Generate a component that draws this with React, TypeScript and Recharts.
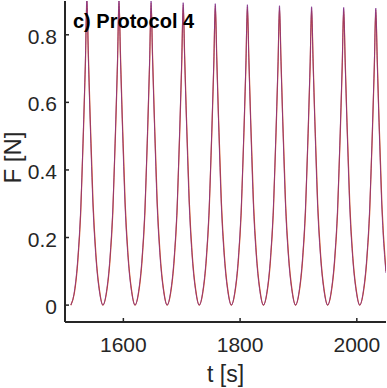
import { LineChart, Line, XAxis, YAxis } from 'recharts';

// sample times [s]: each cycle from a minimum, through the peak, back down
const time = [
  1510, 1516, 1522, 1527, 1532, 1535, 1537.5, 1540, 1543, 1548, 1553, 1559,
  1565, 1571, 1577, 1582, 1587, 1590, 1592.5, 1595, 1598, 1603, 1608, 1614,
  1620, 1626, 1632, 1637, 1642, 1645, 1647.5, 1650, 1653, 1658, 1663, 1669,
  1675, 1681, 1687, 1692, 1697, 1700, 1702.5, 1705, 1708, 1713, 1718, 1724,
  1730, 1736, 1742, 1747, 1752, 1755, 1757.5, 1760, 1763, 1768, 1773, 1779,
  1785, 1791, 1797, 1802, 1807, 1810, 1812.5, 1815, 1818, 1823, 1828, 1834,
  1840, 1846, 1852, 1857, 1862, 1865, 1867.5, 1870, 1873, 1878, 1883, 1889,
  1895, 1901, 1907, 1912, 1917, 1920, 1922.5, 1925, 1928, 1933, 1938, 1944,
  1950, 1956, 1962, 1967, 1972, 1975, 1977.5, 1980, 1983, 1988, 1993, 1999,
  2005, 2011, 2017, 2022, 2027, 2030, 2032.5, 2035, 2038, 2043, 2050,
];

// measured force [N] (lags the model slightly)
const forceMeasured = [
  0, 0.035, 0.13, 0.275, 0.535, 0.715, 0.905, 0.745, 0.565, 0.305, 0.15, 0.045,
  0, 0.035, 0.13, 0.275, 0.535, 0.715, 0.9, 0.745, 0.565, 0.305, 0.15, 0.045,
  0, 0.035, 0.13, 0.275, 0.535, 0.715, 0.894, 0.74, 0.565, 0.305, 0.15, 0.045,
  0, 0.035, 0.13, 0.275, 0.535, 0.712, 0.889, 0.74, 0.562, 0.305, 0.15, 0.045,
  0, 0.035, 0.13, 0.275, 0.532, 0.71, 0.887, 0.738, 0.56, 0.303, 0.15, 0.045,
  0, 0.035, 0.13, 0.275, 0.53, 0.708, 0.884, 0.736, 0.558, 0.302, 0.15, 0.045,
  0, 0.035, 0.13, 0.274, 0.53, 0.706, 0.881, 0.734, 0.557, 0.3, 0.148, 0.045,
  0, 0.035, 0.13, 0.273, 0.528, 0.705, 0.879, 0.732, 0.555, 0.3, 0.148, 0.045,
  0, 0.035, 0.129, 0.272, 0.527, 0.703, 0.877, 0.73, 0.554, 0.298, 0.147, 0.045,
  0, 0.035, 0.129, 0.272, 0.526, 0.702, 0.875, 0.729, 0.553, 0.298, 0.1,
];

// model force [N]
const forceModel = [
  0, 0.04, 0.14, 0.29, 0.55, 0.73, 0.912, 0.73, 0.55, 0.29, 0.14, 0.04,
  0, 0.04, 0.14, 0.29, 0.55, 0.73, 0.907, 0.73, 0.55, 0.29, 0.14, 0.04,
  0, 0.04, 0.14, 0.29, 0.55, 0.73, 0.9, 0.728, 0.55, 0.29, 0.14, 0.04,
  0, 0.04, 0.14, 0.29, 0.55, 0.727, 0.895, 0.727, 0.548, 0.29, 0.14, 0.04,
  0, 0.04, 0.14, 0.29, 0.547, 0.725, 0.892, 0.725, 0.547, 0.288, 0.14, 0.04,
  0, 0.04, 0.14, 0.29, 0.545, 0.723, 0.889, 0.723, 0.545, 0.287, 0.14, 0.04,
  0, 0.04, 0.14, 0.289, 0.545, 0.721, 0.886, 0.721, 0.544, 0.286, 0.139, 0.04,
  0, 0.04, 0.14, 0.288, 0.543, 0.72, 0.883, 0.72, 0.543, 0.285, 0.139, 0.04,
  0, 0.04, 0.139, 0.287, 0.542, 0.718, 0.881, 0.718, 0.541, 0.284, 0.138, 0.04,
  0, 0.04, 0.139, 0.287, 0.541, 0.717, 0.879, 0.717, 0.54, 0.284, 0.095,
];

const xTicks = [1600, 1800, 2000];
const yTicks = [0, 0.2, 0.4, 0.6, 0.8];
const yTickLabels = ['0', '0.2', '0.4', '0.6', '0.8'];

const data = time.map((t, i) => ({ t, measured: forceMeasured[i], model: forceModel[i] }));

const AXIS = '#262626';
const FONT = '"Liberation Sans", Arial, Helvetica, sans-serif';
const TICK_LEN = 4;

function BottomTick({ x, y, payload }: any) {
  return (
    <g>
      <line x1={x} x2={x} y1={y} y2={y - TICK_LEN} stroke={AXIS} strokeWidth={1.5} />
      <text x={x} y={y + 30} textAnchor="middle" fontSize={21} fill={AXIS} fontFamily={FONT}>
        {payload.value}
      </text>
    </g>
  );
}

function TopTick({ x, y }: any) {
  return <line x1={x} x2={x} y1={y} y2={y + TICK_LEN} stroke={AXIS} strokeWidth={1.5} />;
}

function LeftTick({ x, y, payload, index }: any) {
  return (
    <g>
      <line x1={x} x2={x + TICK_LEN} y1={y} y2={y} stroke={AXIS} strokeWidth={1.5} />
      <text x={x - 8} y={y + 9} textAnchor="end" fontSize={21} fill={AXIS} fontFamily={FONT}>
        {yTickLabels[yTicks.indexOf(payload.value)] ?? yTickLabels[index]}
      </text>
    </g>
  );
}

function RightTick({ x, y }: any) {
  return <line x1={x} x2={x - TICK_LEN} y1={y} y2={y} stroke={AXIS} strokeWidth={1.5} />;
}

export default function App() {
  return (
    <div style={{ position: 'absolute', left: 0, top: 0, width: 387, height: 388, background: '#fff' }}>
      <LineChart width={387} height={388} data={data} margin={{ top: 1, right: 1, bottom: 6, left: 5 }}>
        <XAxis
          xAxisId="b"
          dataKey="t"
          type="number"
          domain={[1500, 2050]}
          allowDataOverflow
          ticks={xTicks}
          height={60}
          tickSize={0}
          tickMargin={0}
          tickLine={false}
          axisLine={{ stroke: AXIS, strokeWidth: 2 }}
          tick={<BottomTick />}
          label={{
            content: ({ viewBox }: any) => (
              <text
                x={viewBox.x + viewBox.width / 2}
                y={viewBox.y + 60}
                textAnchor="middle"
                fontSize={23}
                fill={AXIS}
                fontFamily={FONT}
              >
                t [s]
              </text>
            ),
          }}
        />
        <XAxis
          xAxisId="t"
          orientation="top"
          dataKey="t"
          type="number"
          domain={[1500, 2050]}
          allowDataOverflow
          ticks={xTicks}
          height={0}
          tickSize={0}
          tickMargin={0}
          tickLine={false}
          axisLine={{ stroke: AXIS, strokeWidth: 2 }}
          tick={<TopTick />}
        />
        <YAxis
          yAxisId="l"
          type="number"
          domain={[-0.05, 0.9]}
          allowDataOverflow
          ticks={yTicks}
          width={60}
          tickSize={0}
          tickMargin={0}
          tickLine={false}
          axisLine={{ stroke: AXIS, strokeWidth: 2 }}
          tick={<LeftTick />}
          label={{
            content: ({ viewBox }: any) => {
              const cx = viewBox.x + 7;
              const cy = viewBox.y + viewBox.height / 2 - 4;
              return (
                <text
                  x={cx}
                  y={cy}
                  transform={`rotate(-90 ${cx} ${cy})`}
                  textAnchor="middle"
                  dominantBaseline="central"
                  fontSize={24}
                  fill={AXIS}
                  fontFamily={FONT}
                >
                  F [N]
                </text>
              );
            },
          }}
        />
        <YAxis
          yAxisId="r"
          orientation="right"
          type="number"
          domain={[-0.05, 0.9]}
          allowDataOverflow
          ticks={yTicks}
          width={0}
          tickSize={0}
          tickMargin={0}
          tickLine={false}
          axisLine={{ stroke: AXIS, strokeWidth: 2 }}
          tick={<RightTick />}
        />
        <Line
          xAxisId="b"
          yAxisId="l"
          dataKey="measured"
          type="monotone"
          stroke="#D95319"
          strokeWidth={1.2}
          dot={false}
          isAnimationActive={false}
        />
        <Line
          xAxisId="b"
          yAxisId="l"
          dataKey="model"
          type="monotone"
          stroke="#7E2F8E"
          strokeOpacity={0.8}
          strokeWidth={1}
          dot={false}
          isAnimationActive={false}
        />
      </LineChart>
      <div
        style={{
          position: 'absolute',
          left: 73,
          top: 9,
          fontFamily: FONT,
          fontWeight: 'bold',
          fontSize: 20,
          lineHeight: '24px',
          color: '#000',
        }}
      >
        c) Protocol 4
      </div>
    </div>
  );
}
